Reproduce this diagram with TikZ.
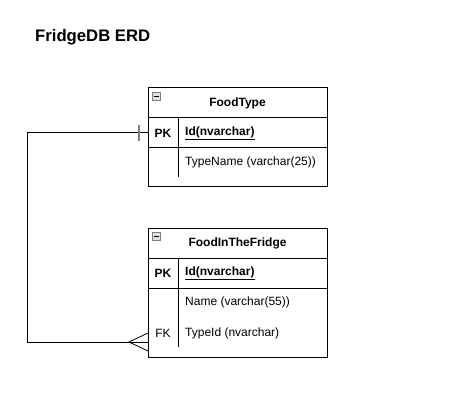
\documentclass[tikz,border=0pt]{standalone}
\usepackage{fontspec}
\setmainfont{Liberation Sans}
\tikzset{
	tbl/.style={draw, line width=1pt, minimum width=179pt, inner sep=0pt},
	hdr/.style={font=\fontsize{12}{14}\selectfont\bfseries},
	key/.style={font=\fontsize{12}{14}\selectfont\bfseries},
	fld/.style={anchor=west, inner sep=0pt, font=\fontsize{12}{14}\selectfont},
	icon/.style={draw=gray, fill=gray!25, minimum size=8pt, inner sep=0pt,
		path picture={\draw[black, line width=0.8pt] ([xshift=1.5pt]path picture bounding box.west) -- ([xshift=-1.5pt]path picture bounding box.east);}}
}
\begin{document}
\begin{tikzpicture}[x=1pt,y=-1pt]
	\useasboundingbox (0,0) rectangle (450,417);
	\node (title) at (35,37) [anchor=west, inner sep=0pt, font=\fontsize{16.7}{20}\selectfont\bfseries] {FridgeDB ERD};

	% FoodType
	\node (FT) at (237.5,137.5) [tbl, minimum height=99pt] {};
	\node (FTicon) at (156,96) [icon] {};
	\node (FThead) at (237.5,103) [hdr] {FoodType};
	\draw[line width=1pt] (148,118) -- (327,118);
	\draw[line width=1pt] (148,148) -- (327,148);
	\draw[line width=1pt] (178,118) -- (178,177);
	\node (FTpk) at (163,133) [key] {PK};
	\node (FTid) at (185,133) [fld] {\underline{\textbf{Id(nvarchar)}}};
	\node (FTname) at (185,162) [fld] {TypeName (varchar(25))};

	% FoodInTheFridge
	\node (FF) at (237.5,292.5) [tbl, minimum height=129pt] {};
	\node (FFicon) at (156,236) [icon] {};
	\node (FFhead) at (237.5,243) [hdr] {FoodInTheFridge};
	\draw[line width=1pt] (148,258) -- (327,258);
	\draw[line width=1pt] (148,288) -- (327,288);
	\draw[line width=1pt] (178,258) -- (178,347);
	\node (FFpk) at (163,273) [key] {PK};
	\node (FFid) at (185,273) [fld] {\underline{\textbf{Id(nvarchar)}}};
	\node (FFname) at (185,302) [fld] {Name (varchar(55))};
	\node (FFfk) at (163,333) [font=\fontsize{12}{14}\selectfont] {FK};
	\node (FFtype) at (185,333) [fld] {TypeId (nvarchar)};

	% relation
	\coordinate (bendA) at (27,133);
	\coordinate (bendB) at (27,342);
	\coordinate (FFend) at (148,342);
	\draw[line width=1pt] (FT.west |- FTpk) -- (bendA) -- (bendB) -- (FFend);
	\draw[gray, line width=1.5pt] (139,125) -- (139,141);
	\draw[line width=0.8pt] (148,333) -- (129,342) -- (148,351);
\end{tikzpicture}
\end{document}
